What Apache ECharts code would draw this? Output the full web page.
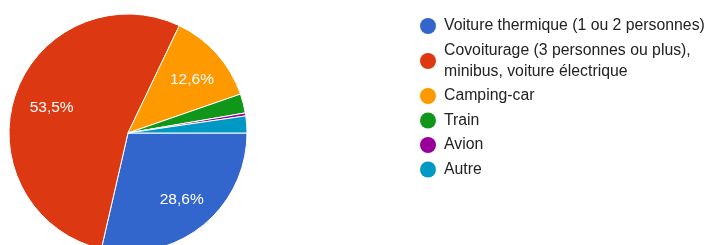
<!DOCTYPE html>
<html>
<head>
<meta charset="utf-8">
<script src="https://cdn.jsdelivr.net/npm/echarts@6/dist/echarts.min.js"></script>
<style>
  html, body { margin: 0; padding: 0; background: #fff; }
  #chart { width: 705px; height: 245px; }
</style>
</head>
<body>
<div id="chart"></div>
<script>
// categories and shares (%)
var categories = [
  'Voiture thermique (1 ou 2 personnes)',
  'Covoiturage (3 personnes ou plus),\nminibus, voiture électrique',
  'Camping-car',
  'Train',
  'Avion',
  'Autre'
]
var shares = [28.6, 53.5, 12.6, 2.6, 0.4, 2.3]
var colors = ['#3366cc', '#dc3912', '#ff9900', '#109618', '#990099', '#0099c6']

var pieData = categories.map(function(name, i) {
  return { name: name, value: shares[i], itemStyle: { color: colors[i] } }
})

var legendData = categories.map(function(name, i) {
  var item = { name: name }
  if (name.indexOf('\n') >= 0) {
    // keep the icon next to the first line
    item.textStyle = { lineHeight: 21, padding: [0, 0, -21, 3] }
  }
  return item
})

var chart = echarts.init(document.getElementById('chart'), null, { renderer: 'canvas' })
chart.setOption({
  animation: false,
  textStyle: { fontFamily: '"Liberation Sans", Arial, sans-serif' },
  legend: {
    orient: 'vertical',
    left: 415,
    top: 13,
    icon: 'circle',
    itemWidth: 16,
    itemHeight: 16,
    itemGap: 8.5,
    selectedMode: false,
    itemStyle: { borderWidth: 0 },
    textStyle: { fontSize: 15.8, color: '#222', padding: [0, 0, 0, 3] },
    data: legendData
  },
  series: [
    {
      // visible slices
      type: 'pie',
      center: [128, 133],
      radius: [0, 119],
      startAngle: 0,
      clockwise: true,
      silent: true,
      itemStyle: { borderColor: '#fff', borderWidth: 1 },
      label: { show: false },
      labelLine: { show: false },
      data: pieData
    },
    {
      // label carrier: labels sit at ~0.67 of the radius like the original
      type: 'pie',
      center: [128, 133],
      radius: [0.345 * 119, 119],
      startAngle: 0,
      clockwise: true,
      silent: true,
      itemStyle: { color: 'rgba(0,0,0,0)' },
      label: {
        show: true,
        position: 'inside',
        color: '#fff',
        fontSize: 15.5,
        offset: [2, 2],
        formatter: function(p) {
          if (p.value < 5) return ''
          return p.value.toFixed(1).replace('.', ',') + '%'
        }
      },
      labelLine: { show: false },
      data: pieData.map(function(d) { return { name: d.name, value: d.value } })
    }
  ]
})
</script>
</body>
</html>
